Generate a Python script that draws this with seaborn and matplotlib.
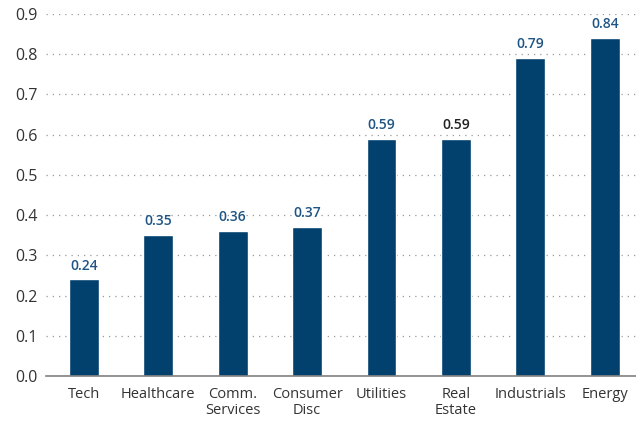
import matplotlib
matplotlib.use("Agg")
import matplotlib.pyplot as plt
import seaborn as sns
import pandas as pd

sectors = ["Tech", "Healthcare", "Comm.\nServices", "Consumer\nDisc", "Utilities",
           "Real\nEstate", "Industrials", "Energy"]
values = [0.24, 0.35, 0.36, 0.37, 0.59, 0.59, 0.79, 0.84]
label_colors = ["#1f5585", "#1f5585", "#1f5585", "#1f5585", "#1f5585",
                "#222222", "#1f5585", "#1f5585"]
yticks = [0.0, 0.1, 0.2, 0.3, 0.4, 0.5, 0.6, 0.7, 0.8, 0.9]

sns.set_theme(style="white")
plt.rcParams["font.family"] = ["Open Sans", "DejaVu Sans"]

df = pd.DataFrame({"sector": sectors, "value": values})

fig = plt.figure(figsize=(6.36, 4.23), dpi=100)
ax = fig.add_axes([46 / 636, 1 - 376 / 423, 590 / 636, 362 / 423])

sns.barplot(data=df, x="sector", y="value", color="#02406e", saturation=1,
            width=0.40, ax=ax, zorder=3)

ax.set_ylim(0, 0.9)
ax.set_xlim(-0.51, 7.42)
ax.set_yticks(yticks)
ax.set_yticklabels([f"{t:.1f}" for t in yticks])
ax.yaxis.grid(True, linestyle=(0, (1, 4)), color="#999999", linewidth=0.9)
ax.set_axisbelow(True)
ax.set_xlabel("")
ax.set_ylabel("")

for s in ["top", "right", "left"]:
    ax.spines[s].set_visible(False)
ax.spines["bottom"].set_color("#808080")
ax.spines["bottom"].set_linewidth(1.2)
ax.spines["bottom"].set_zorder(4)

ax.tick_params(axis="y", length=0, pad=6, labelsize=11.5, labelcolor="#333333")
ax.tick_params(axis="x", length=0, pad=8, labelsize=10.5, labelcolor="#333333")
for lbl in ax.get_xticklabels():
    lbl.set_linespacing(1.1)
    lbl.set_verticalalignment("top")

for i, (v, c) in enumerate(zip(values, label_colors)):
    ax.annotate(f"{v:.2f}", (i, v), xytext=(0, 5), textcoords="offset points",
                ha="center", va="bottom", fontsize=10, fontweight="semibold", color=c)

fig.savefig("out.png", dpi=100)
